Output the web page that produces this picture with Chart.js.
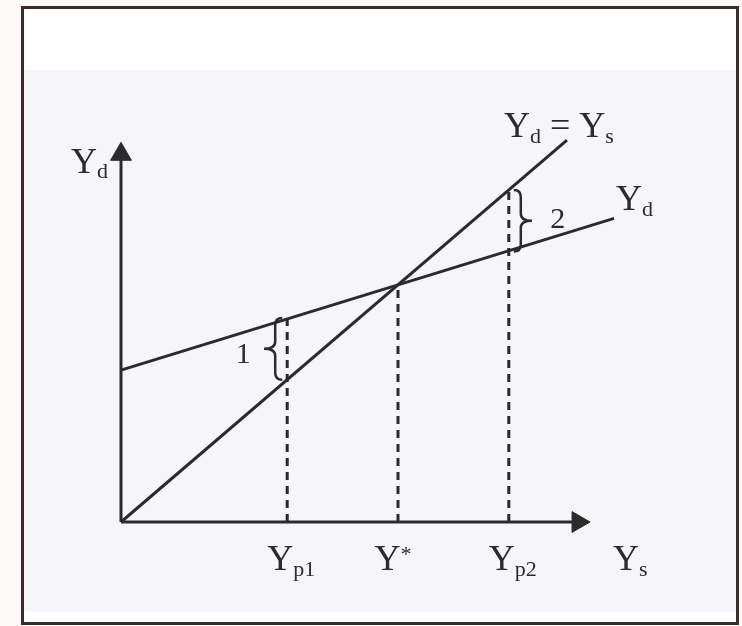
<!DOCTYPE html>
<html lang="en">
  <head>
    <meta charset="UTF-8" />
    <title>Yd = Ys</title>
    <script src="https://cdn.jsdelivr.net/npm/chart.js@4.4.1/dist/chart.umd.min.js"></script>
    <style>
      body { margin: 0; background: #fcf9f9; }
      #frame {
        position: absolute; left: 21px; top: 6px; width: 712px; height: 613px;
        border: 3px solid #3a2c2e;
        background: linear-gradient(to bottom, #ffffff 0 61px, #f6f5f9 61px 603px, #ffffff 603px);
      }
      #wrap { position: absolute; left: 0; top: 0; width: 742px; height: 626px; }
    </style>
  </head>
  <body>
    <div id="frame"></div>
    <div id="wrap"><canvas id="chart" width="742" height="626"></canvas></div>
    <script>
      // values in arbitrary income units
      const tickValues = [6, 10, 14];            // Yp1, Y*, Yp2
      const dashTops = [8.6, 10, 14];            // where each dashed line meets a curve
      const guideX = [0, 16.1];                  // Yd = Ys line
      const guideY = [0, 16.1];
      const demandX = [0, 17.8];                 // Yd line
      const demandY = [6.4, 12.8];
      const gapLow = [6, 8.6];                   // brace 1 at Yp1
      const gapHigh = [11.4, 14];                // brace 2 at Yp2
      const axisEnds = [16.5, 15.5];             // x axis end, y axis end

      const ink = "#2b2b2b";
      const zip = (xs, ys) => xs.map((x, i) => ({ x: x, y: ys[i] }));

      const datasets = [
        { data: zip(guideX, guideY), borderColor: ink, borderWidth: 3, pointRadius: 0 },
        { data: zip(demandX, demandY), borderColor: ink, borderWidth: 3, pointRadius: 0 },
        {
          data: [{ x: 0, y: 0 }, { x: axisEnds[0], y: 0 }],
          borderColor: ink, borderWidth: 3,
          pointRadius: [0, 12], pointStyle: "triangle", pointRotation: [0, 90],
          pointBackgroundColor: ink, pointBorderColor: ink, pointBorderWidth: 1,
        },
        {
          data: [{ x: 0, y: 0 }, { x: 0, y: axisEnds[1] }],
          borderColor: ink, borderWidth: 3,
          pointRadius: [0, 12], pointStyle: "triangle", pointRotation: [0, 0],
          pointBackgroundColor: ink, pointBorderColor: ink, pointBorderWidth: 1,
        },
      ];
      tickValues.forEach((v, i) => {
        datasets.push({
          data: [{ x: v, y: 0 }, { x: v, y: dashTops[i] }],
          borderColor: ink, borderWidth: 3, borderDash: [8, 6], pointRadius: 0,
        });
      });

      function drawParts(ctx, parts, x, y, align) {
        let w = 0;
        parts.forEach((p) => {
          ctx.font = p[1] + 'px "Liberation Serif"';
          w += ctx.measureText(p[0]).width;
        });
        let cx = align === "center" ? x - w / 2 : align === "right" ? x - w : x;
        ctx.textAlign = "left";
        ctx.textBaseline = "alphabetic";
        parts.forEach((p) => {
          ctx.font = p[1] + 'px "Liberation Serif"';
          ctx.fillText(p[0], cx, y + p[2]);
          cx += ctx.measureText(p[0]).width;
        });
      }

      function drawBrace(ctx, x, yTop, yBot, dir) {
        // dir = -1 points left, +1 points right
        const w = 7, mid = (yTop + yBot) / 2;
        ctx.beginPath();
        ctx.moveTo(x - dir * w, yTop);
        ctx.quadraticCurveTo(x, yTop, x, yTop + w);
        ctx.lineTo(x, mid - w);
        ctx.quadraticCurveTo(x, mid, x + dir * 1.6 * w, mid);
        ctx.quadraticCurveTo(x, mid, x, mid + w);
        ctx.lineTo(x, yBot - w);
        ctx.quadraticCurveTo(x, yBot, x - dir * w, yBot);
        ctx.stroke();
      }

      const labels = {
        id: "labels",
        afterDatasetsDraw(chart) {
          const ctx = chart.ctx;
          const xs = chart.scales.x, ys = chart.scales.y;
          const X = (v) => xs.getPixelForValue(v);
          const Y = (v) => ys.getPixelForValue(v);
          const B = 36, S = 22;
          ctx.save();
          ctx.fillStyle = ink;
          ctx.strokeStyle = ink;
          ctx.lineWidth = 2.5;

          // tick labels below the x axis
          const base = Y(0) + 48;
          drawParts(ctx, [["Y", B, 0], ["p1", S, 6]], X(tickValues[0]) + 4, base, "center");
          drawParts(ctx, [["Y", B, 0], ["*", S, -9]], X(tickValues[1]) - 5, base, "center");
          drawParts(ctx, [["Y", B, 0], ["p2", S, 6]], X(tickValues[2]) + 4, base, "center");
          drawParts(ctx, [["Y", B, 0], ["s", S, 6]], X(axisEnds[0]) + 35, base, "left");

          // axis title by the y arrow
          drawParts(ctx, [["Y", B, 0], ["d", S, 5]], X(0) - 13, Y(axisEnds[1]) + 19, "right");

          // line labels
          drawParts(ctx, [["Y", B, 0], ["d", S, 6], [" = ", B, 0], ["Y", B, 0], ["s", S, 6]],
            X(guideX[1]) - 8, Y(guideY[1]) - 3, "center");
          drawParts(ctx, [["Y", B, 0], ["d", S, 6]], X(demandX[1]) + 2, Y(demandY[1]) - 8, "left");

          // braces
          const b1x = X(tickValues[0]) - 12;
          drawBrace(ctx, b1x, Y(gapLow[1]), Y(gapLow[0]), -1);
          const b2x = X(tickValues[2]) + 12;
          drawBrace(ctx, b2x, Y(gapHigh[1]), Y(gapHigh[0]), 1);
          ctx.font = '30px "Liberation Serif"';
          ctx.textAlign = "center";
          ctx.textBaseline = "middle";
          ctx.fillText("1", b1x - 32, (Y(gapLow[0]) + Y(gapLow[1])) / 2 + 6);
          ctx.fillText("2", b2x + 37, (Y(gapHigh[0]) + Y(gapHigh[1])) / 2 - 1);
          ctx.restore();
        },
      };

      new Chart(document.getElementById("chart"), {
        type: "scatter",
        data: { datasets: datasets.map((d) => Object.assign({ showLine: true, clip: false }, d)) },
        options: {
          responsive: false,
          animation: false,
          events: [],
          layout: { padding: { left: 121, right: 67, top: 95, bottom: 104 } },
          scales: {
            x: { type: "linear", min: 0, max: 20, display: false },
            y: { type: "linear", min: 0, max: 18, display: false },
          },
          plugins: { legend: { display: false }, tooltip: { enabled: false } },
        },
        plugins: [labels],
      });
    </script>
  </body>
</html>
